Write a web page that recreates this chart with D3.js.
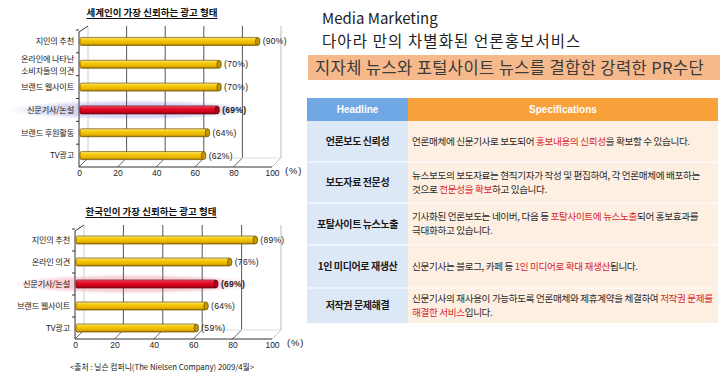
<!DOCTYPE html>
<html>
<head>
<meta charset="utf-8">
<script src="https://cdn.jsdelivr.net/npm/d3@7/dist/d3.min.js"></script>
<style>
  html, body { margin: 0; padding: 0; background: #fff; }
  svg { display: block; }
</style>
</head>
<body>
<svg id="chart" width="720" height="380"></svg>
<script>
// ---------------- DATA ----------------
const chart1Title = "세계인이 가장 신뢰하는 광고 형태";
const chart1Categories = ["지인의 추천", "온라인에 나타난\n소비자들의 의견", "브랜드 웹사이트", "신문기사/논설", "브랜드 후원활동", "TV광고"];
const chart1Values = [90, 70, 70, 69, 64, 62];
const chart1Highlight = "신문기사/논설";

const chart2Title = "한국인이 가장 신뢰하는 광고 형태";
const chart2Categories = ["지인의 추천", "온라인 의견", "신문기사/논설", "브랜드 웹사이트", "TV광고"];
const chart2Values = [89, 76, 69, 64, 59];
const chart2Highlight = "신문기사/논설";

const axisTicks = [0, 20, 40, 60, 80, 100];
const unitLabel = "(%)";
const sourceNote = "<출처 : 닐슨 컴퍼니(The Nielsen Company) 2009/4월>";

const pageTitle1 = "Media Marketing";
const pageTitle2 = "다아라 만의 차별화된 언론홍보서비스";
const bannerText = "지자체 뉴스와 포털사이트 뉴스를 결합한 강력한 PR수단";

const tableHeaders = ["Headline", "Specifications"];
const tableHeadlines = ["언론보도 신뢰성", "보도자료 전문성", "포탈사이트 뉴스노출", "1인 미디어로 재생산", "저작권 문제해결"];
// [..] marks red (emphasised) text, \n separates lines
const tableSpecs = [
  "언론매체에 신문기사로 보도되어 [홍보내용의 신뢰성]을 확보할 수 있습니다.",
  "뉴스보도의 보도자료는 현직기자가 작성 및 편집하여, 각 언론매체에 배포하는\n것으로 [전문성을 확보]하고 있습니다.",
  "기사화된 언론보도는 네이버, 다음 등 [포탈사이트에 뉴스노출]되어 홍보효과를\n극대화하고 있습니다.",
  "신문기사는 블로그, 카페 등 [1인 미디어로 확대 재생산]됩니다.",
  "신문기사의 재사용이 가능하도록 언론매체와 제휴계약을 체결하여 [저작권 문제를]\n[해결한 서비스]입니다."
];

// ---------------- DRAW ----------------
const svg = d3.select("#chart");
const KR = "'Noto Sans CJK KR', 'Noto Sans', sans-serif";
const LAT = "'Liberation Sans', Arial, sans-serif";
const defs = svg.append("defs");

function gradV(id, stops) {
  const g = defs.append("linearGradient").attr("id", id)
    .attr("x1", 0).attr("y1", 0).attr("x2", 0).attr("y2", 1);
  stops.forEach(([o, c]) => g.append("stop").attr("offset", o).attr("stop-color", c));
}
gradV("gYellow", [[0, "#ffeb8a"], [0.3, "#f7cc10"], [0.75, "#e8b200"], [1, "#a07600"]]);
gradV("gRed", [[0, "#ff6070"], [0.3, "#e8102c"], [0.75, "#cc0018"], [1, "#8a0010"]]);
function radial(id, c) {
  const g = defs.append("radialGradient").attr("id", id);
  g.append("stop").attr("offset", 0).attr("stop-color", c).attr("stop-opacity", 1);
  g.append("stop").attr("offset", 0.7).attr("stop-color", c).attr("stop-opacity", 0.85);
  g.append("stop").attr("offset", 1).attr("stop-color", c).attr("stop-opacity", 0);
}
radial("hlBlue", "#cfd0f0");
radial("hlPink", "#f6c8d2");

function drawBarChart(cfg) {
  const g = svg.append("g");
  const x = d3.scaleLinear().domain([0, 100]).range([cfg.x0, cfg.x1]);
  const y = d3.scaleBand().domain(cfg.categories).range([cfg.yTop, cfg.yBase]);
  const dx = 9, dy = -9;
  const backTop = cfg.yTop - 4, frontTop = cfg.yTop + 2;
  const yc = c => y(c) + y.bandwidth() / 2;

  // title
  const t = g.append("text").attr("x", cfg.titleX).attr("y", cfg.titleY)
    .attr("text-anchor", "middle").attr("font-family", KR).attr("font-weight", 700)
    .attr("font-size", 9.5).attr("fill", "#111").text(cfg.title);
  const tw = t.node().getComputedTextLength();
  g.append("line").attr("x1", cfg.titleX - tw / 2).attr("x2", cfg.titleX + tw / 2)
    .attr("y1", cfg.titleY + 2.5).attr("y2", cfg.titleY + 2.5).attr("stroke", "#111").attr("stroke-width", 1);

  // highlight ellipse
  const hc = yc(cfg.highlight);
  g.append("ellipse").attr("cx", cfg.hlCx).attr("cy", hc).attr("rx", cfg.hlRx).attr("ry", 10)
    .attr("fill", `url(#${cfg.hlFill})`);

  // back wall grid
  axisTicks.forEach(v => {
    const last = v === 100, first = v === 0;
    if (!first) {
      g.append("line").attr("x1", x(v) + dx).attr("x2", x(v) + dx)
        .attr("y1", backTop).attr("y2", cfg.yBase + dy)
        .attr("stroke", last ? "#bbb" : "#555").attr("stroke-width", 1);
    }
    g.append("line").attr("x1", x(v)).attr("x2", x(v) + dx)
      .attr("y1", cfg.yBase).attr("y2", cfg.yBase + dy)
      .attr("stroke", last ? "#bbb" : "#555").attr("stroke-width", 0.9);
  });
  g.append("line").attr("x1", x(0) + dx).attr("x2", x(100) + dx)
    .attr("y1", cfg.yBase + dy).attr("y2", cfg.yBase + dy).attr("stroke", "#ddd");
  g.append("line").attr("x1", x(0) + dx).attr("x2", x(0) + dx)
    .attr("y1", backTop).attr("y2", cfg.yBase + dy).attr("stroke", "#ccc");
  // left wall front edge
  g.append("line").attr("x1", x(0)).attr("x2", x(0)).attr("y1", frontTop).attr("y2", cfg.yBase)
    .attr("stroke", "#333");
  g.append("line").attr("x1", x(0)).attr("x2", x(0) + dx).attr("y1", frontTop).attr("y2", backTop)
    .attr("stroke", "#333");
  // category tick marks
  cfg.categories.forEach(c => {
    g.append("line").attr("x1", x(0) - 3).attr("x2", x(0)).attr("y1", y(c)).attr("y2", y(c))
      .attr("stroke", "#333");
  });
  // front baseline
  g.append("line").attr("x1", x(0)).attr("x2", x(100)).attr("y1", cfg.yBase).attr("y2", cfg.yBase)
    .attr("stroke", "#333");

  // bars
  const h = 8, off = 5;
  cfg.categories.forEach((c, i) => {
    const v = cfg.values[i];
    const hl = c === cfg.highlight;
    const y0 = yc(c) - h / 2;
    const xs = x(0) + 1, xe = x(v) + off;
    g.append("rect").attr("x", xs).attr("y", y0).attr("width", xe - xs).attr("height", h)
      .attr("rx", 1.5).attr("fill", hl ? "url(#gRed)" : "url(#gYellow)")
      .attr("stroke", hl ? "#6a0010" : "#6b5200").attr("stroke-width", 0.7);
    g.append("ellipse").attr("cx", xe).attr("cy", yc(c)).attr("rx", 2.2).attr("ry", h / 2)
      .attr("fill", hl ? "#b00018" : "#c49a00").attr("stroke", hl ? "#5a0010" : "#5a4400").attr("stroke-width", 0.7);
    g.append("text").attr("x", xe + 5).attr("y", yc(c)).attr("dy", "0.35em")
      .attr("font-family", LAT).attr("font-size", 8.5).attr("font-weight", hl ? 700 : 400)
      .attr("fill", "#222").attr("letter-spacing", 0.3).text(`(${v}%)`);
  });

  // category labels
  cfg.categories.forEach(c => {
    const lines = c.split("\n");
    const tx = g.append("text").attr("x", cfg.labelX).attr("y", yc(c))
      .attr("text-anchor", "end").attr("font-family", KR).attr("font-size", 8.2)
      .attr("letter-spacing", -0.2).attr("fill", "#222");
    lines.forEach((ln, k) => {
      tx.append("tspan").attr("x", cfg.labelX)
        .attr("dy", k === 0 ? `${0.35 - (lines.length - 1) * 0.62}em` : "1.45em").text(ln);
    });
  });

  // x axis labels
  const ax = g.append("g").attr("transform", `translate(0,${cfg.yBase + 1})`)
    .call(d3.axisBottom(x).tickValues(axisTicks).tickSize(0).tickPadding(2).tickFormat(d3.format("d")));
  ax.select(".domain").remove();
  ax.selectAll("text").attr("font-family", LAT).attr("font-size", 8.5).attr("fill", "#222");

  g.append("text").attr("x", cfg.unitX).attr("y", cfg.yBase + 7).attr("font-family", LAT)
    .attr("font-size", 9.5).attr("fill", "#222").attr("letter-spacing", 0.8).text(unitLabel);
}

drawBarChart({
  title: chart1Title, titleX: 152, titleY: 16,
  categories: chart1Categories, values: chart1Values, highlight: chart1Highlight,
  x0: 79, x1: 272, yTop: 30, yBase: 167, labelX: 74,
  hlCx: 132, hlRx: 122, hlFill: "hlBlue", unitX: 285
});
drawBarChart({
  title: chart2Title, titleX: 151, titleY: 215,
  categories: chart2Categories, values: chart2Values, highlight: chart2Highlight,
  x0: 75, x1: 272, yTop: 229, yBase: 339, labelX: 70,
  hlCx: 134, hlRx: 122, hlFill: "hlPink", unitX: 287
});

svg.append("text").attr("x", 162).attr("y", 370).attr("text-anchor", "middle")
  .attr("font-family", KR).attr("font-size", 7.8).attr("fill", "#222")
  .text(sourceNote);

// ---------------- RIGHT PANEL ----------------
svg.append("text").attr("x", 322).attr("y", 23.5).attr("font-family", KR).attr("font-size", 15)
  .attr("fill", "#222").text(pageTitle1);
svg.append("text").attr("x", 322).attr("y", 46.5).attr("font-family", KR).attr("font-size", 15.5)
  .attr("letter-spacing", 1.1).attr("fill", "#222").text(pageTitle2);
svg.append("rect").attr("x", 308).attr("y", 55).attr("width", 412).attr("height", 25).attr("fill", "#f6b98c");
svg.append("text").attr("x", 315).attr("y", 74).attr("font-family", KR).attr("font-size", 16.5)
  .attr("letter-spacing", 0.4).attr("fill", "#3a3a3a").text(bannerText);

// table
const colX = [307, 408, 718];
const headerY = [98, 121];
const rowEdges = [121, 162, 203, 245, 288, 323];
const rows = d3.range(tableHeadlines.length);

const hdrFill = ["#6fa8e4", "#f8a03a"];
tableHeaders.forEach((hd, i) => {
  svg.append("rect").attr("x", colX[i]).attr("y", headerY[0]).attr("width", colX[i + 1] - colX[i])
    .attr("height", headerY[1] - headerY[0]).attr("fill", hdrFill[i]);
  svg.append("text").attr("x", (colX[i] + colX[i + 1]) / 2).attr("y", (headerY[0] + headerY[1]) / 2)
    .attr("dy", "0.35em").attr("text-anchor", "middle").attr("font-family", LAT)
    .attr("font-weight", 700).attr("font-size", 10).attr("fill", "#fff").text(hd);
});

rows.forEach(i => {
  const y0 = rowEdges[i], y1 = rowEdges[i + 1], cy = (y0 + y1) / 2;
  svg.append("rect").attr("x", colX[0]).attr("y", y0).attr("width", colX[1] - colX[0])
    .attr("height", y1 - y0).attr("fill", "#dde8f6");
  svg.append("rect").attr("x", colX[1]).attr("y", y0).attr("width", colX[2] - colX[1])
    .attr("height", y1 - y0).attr("fill", "#fdefe2");
  if (i > 0) {
    svg.append("line").attr("x1", colX[0]).attr("x2", colX[2]).attr("y1", y0).attr("y2", y0)
      .attr("stroke", "#ffffff").attr("stroke-width", 1.2);
  }
  svg.append("text").attr("x", (colX[0] + colX[1]) / 2).attr("y", cy).attr("dy", "0.35em")
    .attr("text-anchor", "middle").attr("font-family", KR).attr("font-weight", 700)
    .attr("font-size", 10).attr("letter-spacing", -0.4).attr("fill", "#1a1a1a").text(tableHeadlines[i]);

  const lines = tableSpecs[i].split("\n");
  const lh = 14;
  lines.forEach((ln, k) => {
    const ty = cy + (k - (lines.length - 1) / 2) * lh;
    const tx = svg.append("text").attr("x", 412).attr("y", ty).attr("dy", "0.35em")
      .attr("font-family", KR).attr("font-size", 9.6).attr("letter-spacing", -0.35);
    ln.split(/(\[[^\]]*\])/).filter(s => s.length).forEach(seg => {
      const red = seg.startsWith("[");
      tx.append("tspan").attr("fill", red ? "#d8262c" : "#2a2a2a")
        .text(red ? seg.slice(1, -1) : seg);
    });
  });
});
</script>
</body>
</html>
